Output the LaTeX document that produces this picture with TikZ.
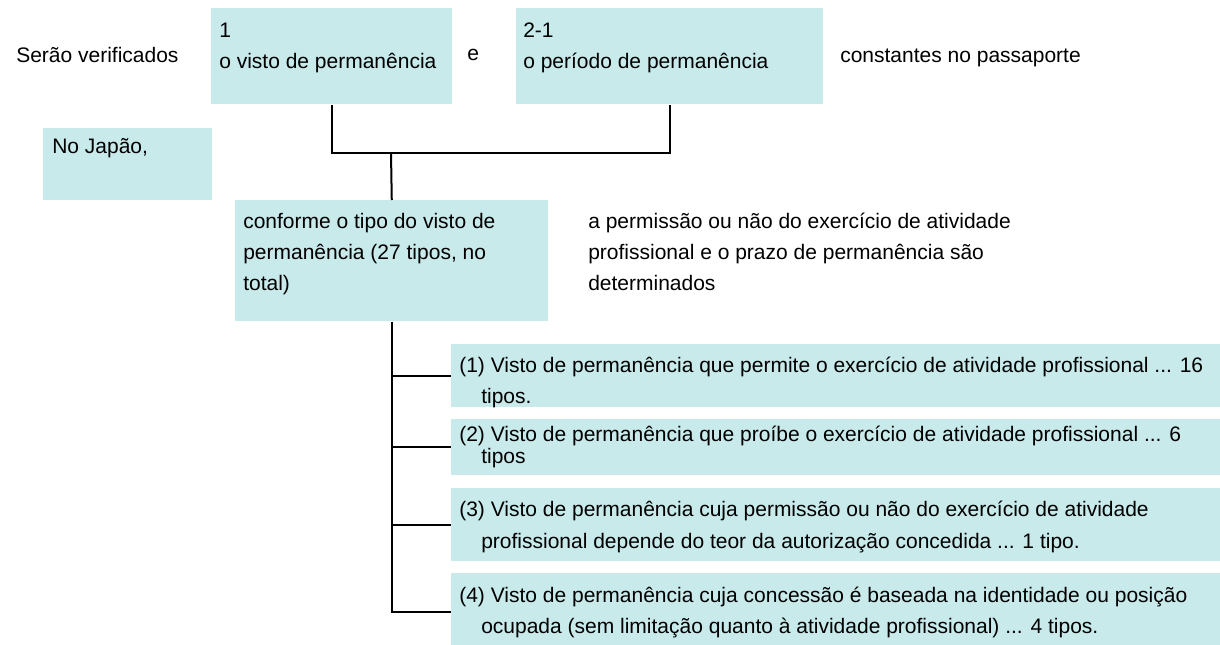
\documentclass[tikz,border=0pt]{standalone}
\usepackage{fontspec}
\setmainfont{Liberation Sans}
\usepackage{xcolor}
\usepackage{tikz}

\definecolor{cianoclaro}{RGB}{200,234,235}

\tikzset{
  caixa/.style={fill=cianoclaro, draw=none, inner sep=0pt, anchor=north west},
  texto/.style={anchor=north west, inner sep=0pt, align=left, font=\fontsize{15.75}{23.25}\selectfont},
  ligacao/.style={line width=1.5pt}
}

\begin{document}
\begin{tikzpicture}[x=0.75pt,y=0.75pt,yscale=-1,xscale=1]

\useasboundingbox (0,0) rectangle (1220,644);

% caixas
\draw (211,8) node (visto) [caixa, minimum width=180.75pt, minimum height=72pt] {};

\draw (516,8) node (periodo) [caixa, minimum width=230.25pt, minimum height=72pt] {};

\draw (43,128) node (japao) [caixa, minimum width=126.75pt, minimum height=54pt] {};

\draw (235,200) node (tipo) [caixa, minimum width=234.75pt, minimum height=90.75pt] {};

\draw (451,344) node (v1) [caixa, minimum width=581.25pt, minimum height=47.25pt] {};

\draw (451,419) node (v2) [caixa, minimum width=581.25pt, minimum height=42pt] {};

\draw (451,488) node (v3) [caixa, minimum width=581.25pt, minimum height=54.75pt] {};

\draw (451,573) node (v4) [caixa, minimum width=581.25pt, minimum height=58.5pt] {};

% ligacoes
\coordinate (juncao) at (391,153);

\draw [ligacao] (visto.south) -- (visto.south |- juncao) -- (periodo.south |- juncao) -- (periodo.south) ;

\draw [ligacao] (juncao) -- (tipo.north) ;

\draw [ligacao] (tipo.south) -- (tipo.south |- v4.west) -- (v4.west) ;

\draw [line width=1.9pt] (tipo.south |- v1.west) -- (v1.west) ;

\draw [ligacao] (tipo.south |- v2.west) -- (v2.west) ;

\draw [ligacao] (tipo.south |- v3.west) -- (v3.west) ;

% textos
\draw (16,40.3) node (tserao) [texto] {\strut Serão verificados};

\draw (219,15.3) node (tvisto) [texto] {\strut 1\\\strut o visto de permanência};

\draw (467,38.3) node (te) [texto] {\strut e};

\draw (523,15.3) node (tperiodo) [texto] {\strut 2-1\\\strut o período de permanência};

\draw (840,40.3) node (tpassaporte) [texto] {\strut constantes no passaporte};

\draw (52,131.3) node (tjapao) [texto] {\strut No Japão,};

\draw (243,206.3) node (ttipo) [texto] {\strut conforme o tipo do visto de\\\strut permanência (27 tipos, no\\\strut total)};

\draw (588,206.3) node (tprazo) [texto] {\strut a permissão ou não do exercício de atividade\\\strut profissional e o prazo de permanência são\\\strut determinados};

\draw (459,350.3) node (tv1) [texto] {\strut (1) Visto de permanência que permite o exercício de atividade profissional ... 16\\\strut\hspace*{16.5pt}tipos.};

\draw (459,425.6) node (tv2) [texto, font=\fontsize{15.75}{16.5}\selectfont] {\strut (2) Visto de permanência que proíbe o exercício de atividade profissional ... 6\\\hspace*{16.5pt}tipos};

\draw (459,493.6) node (tv3) [texto, font=\fontsize{15.75}{24}\selectfont] {\strut (3) Visto de permanência cuja permissão ou não do exercício de atividade\\\strut\hspace*{16.5pt}profissional depende do teor da autorização concedida ... 1 tipo.};

\draw (459,580.3) node (tv4) [texto] {\strut (4) Visto de permanência cuja concessão é baseada na identidade ou posição\\\strut\hspace*{16.5pt}ocupada (sem limitação quanto à atividade profissional) ... 4 tipos.};

\end{tikzpicture}
\end{document}
